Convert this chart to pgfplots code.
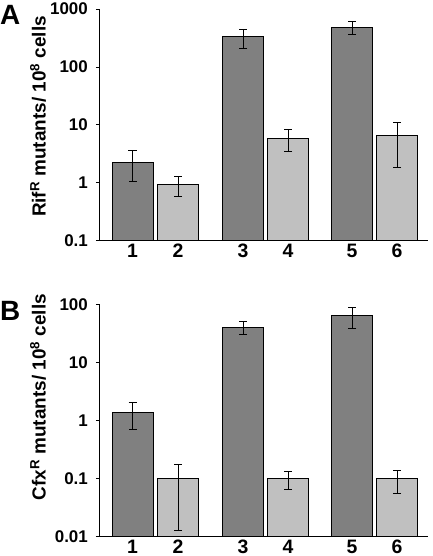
\documentclass[border=0pt]{standalone}
\usepackage{fontspec}
\setmainfont{Liberation Sans}
\usepackage{pgfplots}
\usepackage{pgfplotstable}
\pgfplotsset{compat=1.18}
\definecolor{darkbar}{HTML}{808080}
\definecolor{lightbar}{HTML}{C0C0C0}

\pgfplotstableread{
x y ep em
132.5 2.24 1.36 1.20
243 333 113 121
352 476 124 116
}\Adark
\pgfplotstableread{
x y ep em
178 0.95 0.33 0.37
288 5.9 2.3 2.44
397 6.45 4.45 4.61
}\Alight
\pgfplotstableread{
x y ep em
132.5 1.39 0.65 0.68
243 40.4 9.6 9.7
352 63.5 24.5 25.5
}\Bdark
\pgfplotstableread{
x y ep em
178 0.1 0.078 0.0871
288 0.1 0.03 0.0345
397 0.1 0.037 0.044
}\Blight

\begin{document}
\begin{tikzpicture}
\path[use as bounding box] (0,0) rectangle (433bp,556bp);
\begin{semilogyaxis}[at={(99bp,315.3bp)}, anchor=south west,
  scale only axis, width=329bp, height=231.7bp,
  xmin=99, xmax=428, ymin=0.1, ymax=1000,
  log origin=infty,
  axis x line=bottom, axis y line=left,
  axis line style={line width=1bp, -},
  xtick={132.5,178,243,288,352,397}, xticklabels={1,2,3,4,5,6},
  x tick style={draw=none},
  major tick length=3bp,
  y tick style={line width=0.8bp, black},
  tick align=outside,
  yminorticks=false,
  log ticks with fixed point,
  /pgf/number format/1000 sep={},
  /pgf/number format/assume math mode=true,
  yticklabel style={font=\fontsize{17}{17}\selectfont\bfseries, inner sep=0pt, xshift=-8bp},
  xticklabel style={font=\fontsize{19.5}{19.5}\selectfont\bfseries, inner sep=0pt, yshift=0bp},
  ylabel={Rif\textsuperscript{R} mutants/ 10\textsuperscript{8} cells},
  ylabel style={font=\fontsize{19}{19}\selectfont\bfseries, anchor=center, at={(rel axis cs:-0.185,0.536)}},
  ybar, bar width=41, clip=false]
\addplot[bar shift=0pt, draw=black, line width=0.9bp, fill=darkbar,
  error bars/y dir=both, error bars/y explicit,
  error bars/error mark options={rotate=90, mark size=4bp, line width=1bp, black},
  error bars/error bar style={line width=1bp, black}]
  table[x=x,y=y,y error plus=ep,y error minus=em]{\Adark};
\addplot[bar shift=0pt, draw=black, line width=0.9bp, fill=lightbar,
  error bars/y dir=both, error bars/y explicit,
  error bars/error mark options={rotate=90, mark size=4bp, line width=1bp, black},
  error bars/error bar style={line width=1bp, black}]
  table[x=x,y=y,y error plus=ep,y error minus=em]{\Alight};
\end{semilogyaxis}
\begin{semilogyaxis}[at={(99bp,19.3bp)}, anchor=south west,
  scale only axis, width=329bp, height=232.4bp,
  xmin=99, xmax=428, ymin=0.01, ymax=100,
  log origin=infty,
  axis x line=bottom, axis y line=left,
  axis line style={line width=1bp, -},
  xtick={132.5,178,243,288,352,397}, xticklabels={1,2,3,4,5,6},
  x tick style={draw=none},
  major tick length=3bp,
  y tick style={line width=0.8bp, black},
  tick align=outside,
  yminorticks=false,
  log ticks with fixed point,
  /pgf/number format/1000 sep={},
  /pgf/number format/assume math mode=true,
  yticklabel style={font=\fontsize{17}{17}\selectfont\bfseries, inner sep=0pt, xshift=-8bp},
  xticklabel style={font=\fontsize{19.5}{19.5}\selectfont\bfseries, inner sep=0pt, yshift=0bp},
  ylabel={Cfx\textsuperscript{R} mutants/ 10\textsuperscript{8} cells},
  ylabel style={font=\fontsize{19}{19}\selectfont\bfseries, anchor=center, at={(rel axis cs:-0.185,0.6)}},
  ybar, bar width=41, clip=false]
\addplot[bar shift=0pt, draw=black, line width=0.9bp, fill=darkbar,
  error bars/y dir=both, error bars/y explicit,
  error bars/error mark options={rotate=90, mark size=4bp, line width=1bp, black},
  error bars/error bar style={line width=1bp, black}]
  table[x=x,y=y,y error plus=ep,y error minus=em]{\Bdark};
\addplot[bar shift=0pt, draw=black, line width=0.9bp, fill=lightbar,
  error bars/y dir=both, error bars/y explicit,
  error bars/error mark options={rotate=90, mark size=4bp, line width=1bp, black},
  error bars/error bar style={line width=1bp, black}]
  table[x=x,y=y,y error plus=ep,y error minus=em]{\Blight};
\end{semilogyaxis}
\node[anchor=north west, inner sep=0, font=\fontsize{28}{28}\selectfont\bfseries] at (0bp,551bp) {A};
\node[anchor=north west, inner sep=0, font=\fontsize{28}{28}\selectfont\bfseries] at (0bp,255bp) {B};
\end{tikzpicture}
\end{document}
